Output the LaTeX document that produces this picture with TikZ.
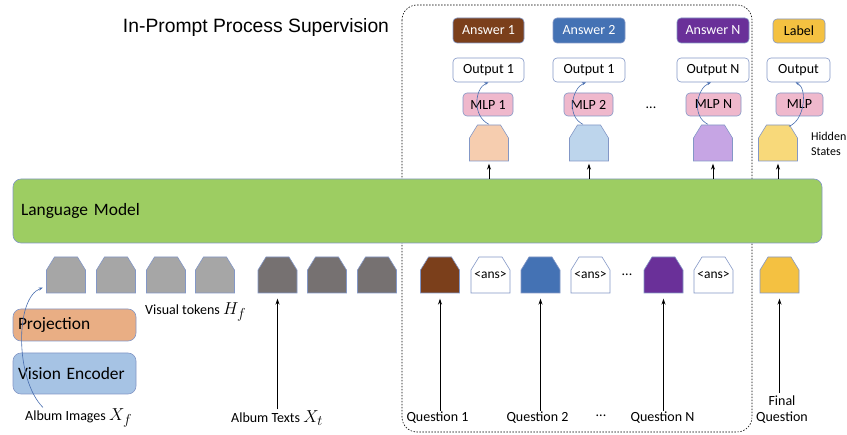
\documentclass[tikz,border=0pt]{standalone}
\usepackage{fontspec}
\setmainfont{Carlito}
\newfontfamily\titlefont{Liberation Sans}
\usetikzlibrary{arrows.meta, positioning}

\definecolor{lmgreen}{HTML}{9DCD62}
\definecolor{edgeblue}{HTML}{8397C6}
\definecolor{curlblue}{HTML}{4A6FB0}
\definecolor{projorange}{HTML}{E9AE84}
\definecolor{encblue}{HTML}{A6C3E4}
\definecolor{imggray}{HTML}{A6A6A6}
\definecolor{txtgray}{HTML}{767171}
\definecolor{qbrown}{HTML}{7B3F1B}
\definecolor{qblue}{HTML}{4472B4}
\definecolor{qpurple}{HTML}{6A3099}
\definecolor{qyellow}{HTML}{F4C141}
\definecolor{hpeach}{HTML}{F6CDAF}
\definecolor{hblue}{HTML}{BDD5EC}
\definecolor{hlav}{HTML}{C6A5E4}
\definecolor{hyellow}{HTML}{F8D97A}
\definecolor{mlppink}{HTML}{EFB8CC}

\tikzset{
  tok/.style={minimum width=40pt, minimum height=37pt, inner sep=0pt,
    path picture={
      \filldraw[fill=#1, draw=edgeblue, line width=0.6pt]
        ([shift={(0.5pt,0.5pt)}]path picture bounding box.south west)
        -- ([shift={(0.5pt,-13.5pt)}]path picture bounding box.north west)
        -- ([shift={(8.5pt,-0.5pt)}]path picture bounding box.north west)
        -- ([shift={(-8.5pt,-0.5pt)}]path picture bounding box.north east)
        -- ([shift={(-0.5pt,-13.5pt)}]path picture bounding box.north east)
        -- ([shift={(-0.5pt,0.5pt)}]path picture bounding box.south east) -- cycle;
    }},
  box/.style={rounded corners=4pt, draw=edgeblue, line width=0.6pt, inner sep=0pt,
    font=\fontsize{14}{16}\selectfont},
  bigbox/.style={rounded corners=8pt, draw=edgeblue, line width=0.6pt, inner ysep=0pt,
    align=left, font=\fontsize{17.4}{20}\selectfont},
  lab/.style={inner sep=1pt, font=\fontsize{14}{16}\selectfont},
  up/.style={-{Stealth[length=6pt,width=4pt]}, line width=0.8pt},
  curl/.style={-{Stealth[length=4pt,width=3pt]}, draw=curlblue, line width=0.6pt}
}

\begin{document}
\begin{tikzpicture}[x=1pt, y=-1pt]
  \useasboundingbox (0,0) rectangle (847,435);
  \draw[dash pattern=on 1.5pt off 1.5pt, rounded corners=15pt, line width=0.6pt] (402,5) rectangle (752,432);
  \node[font=\titlefont\fontsize{19.3}{22}\selectfont] (title) at (256,28) {In-Prompt Process Supervision};

  % language model and vision side
  \node[bigbox, fill=lmgreen, minimum width=809pt, minimum height=64pt, text width=793pt, inner xsep=8pt] (lm) at (417.5,211) {Language Model};
  \node[bigbox, fill=projorange, minimum width=123pt, minimum height=32pt, text width=113pt, inner xsep=5pt] (proj) at (74.5,325) {Projection};
  \node[bigbox, fill=encblue, minimum width=123pt, minimum height=41pt, text width=113pt, inner xsep=5pt] (enc) at (74.5,373.5) {Vision Encoder};

  % input tokens
  \foreach \x [count=\i] in {66,116,166,215}
    \node[tok=imggray] (v\i) at (\x,275) {};
  \foreach \x [count=\i] in {277.5,327,377}
    \node[tok=txtgray] (t\i) at (\x,275) {};
  \node[tok=qbrown] (q1) at (440,275) {};
  \node[tok=white, font=\fontsize{13.5}{15}\selectfont] (a1) at (490.5,275) {<ans>};
  \node[tok=qblue] (q2) at (540.5,275) {};
  \node[tok=white, font=\fontsize{13.5}{15}\selectfont] (a2) at (590.5,275) {<ans>};
  \node[lab] (qdots) at (627,275) {...};
  \node[tok=qpurple] (qN) at (663.5,275) {};
  \node[tok=white, font=\fontsize{13.5}{15}\selectfont] (aN) at (713.5,275) {<ans>};
  \node[tok=qyellow] (qf) at (779.5,275) {};

  % hidden states and heads
  \node[tok=hpeach] (h1) at (489,143) {};
  \node[tok=hblue] (h2) at (589,143) {};
  \node[tok=hlav] (hN) at (713,143) {};
  \node[tok=hyellow] (hf) at (778,143) {};
  \node[lab, anchor=west, align=left, font=\fontsize{12}{15}\selectfont] (hid) at (810,144) {Hidden\\States};

  \node[box, fill=mlppink, minimum width=50pt, minimum height=23pt] (m1) at (488,104.5) {MLP 1};
  \node[box, fill=mlppink, minimum width=49pt, minimum height=23pt] (m2) at (588.5,104.5) {MLP 2};
  \node[lab] (mdots) at (651,108) {...};
  \node[box, fill=mlppink, minimum width=55pt, minimum height=23pt] (mN) at (713.5,104.5) {MLP N};
  \node[box, fill=mlppink, minimum width=47pt, minimum height=23pt] (mf) at (799.5,104.5) {MLP};

  \node[box, fill=white, minimum width=71pt, minimum height=24pt] (o1) at (488.5,70) {Output 1};
  \node[box, fill=white, minimum width=72pt, minimum height=24pt] (o2) at (589,70) {Output 1};
  \node[box, fill=white, minimum width=72pt, minimum height=24pt] (oN) at (713,70) {Output N};
  \node[box, fill=white, minimum width=63pt, minimum height=24pt] (of) at (798.5,70) {Output};

  \node[box, fill=qbrown, text=white, minimum width=71pt, minimum height=25pt] (ans1) at (488.5,30.5) {Answer 1};
  \node[box, fill=qblue, text=white, minimum width=72pt, minimum height=25pt] (ans2) at (589,30.5) {Answer 2};
  \node[box, fill=qpurple, text=white, minimum width=72pt, minimum height=25pt] (ansN) at (713,30.5) {Answer N};
  \node[box, fill=qyellow, minimum width=52pt, minimum height=24pt] (lbl) at (799,31) {Label};

  % bottom labels
  \node[lab, anchor=west] (vis) at (144,312) {Visual tokens \fontsize{19}{20}\selectfont$H_f$};
  \node[lab, anchor=west] (imgs) at (24,418) {Album Images \fontsize{19}{20}\selectfont$X_f$};
  \node[lab, anchor=west] (txts) at (230,418) {Album Texts \fontsize{19}{20}\selectfont$X_t$};
  \node[lab] (q1l) at (437.5,418) {Question 1};
  \node[lab] (q2l) at (537.5,418) {Question 2};
  \node[lab] (qldots) at (601,416) {...};
  \node[lab] (qNl) at (662.5,418) {Question N};
  \node[lab, align=center, font=\fontsize{14}{16}\selectfont] (qfl) at (782,410) {Final\\Question};

  % arrows
  \draw[up, shorten >=5pt] (t1.south |- txts.north) -- (t1.south);
  \draw[up, shorten >=5pt] (q1.south |- q1l.north) -- (q1.south);
  \draw[up, shorten >=5pt] (q2.south |- q2l.north) -- (q2.south);
  \draw[up, shorten >=5pt] (qN.south |- qNl.north) -- (qN.south);
  \draw[up, shorten >=5pt] ([yshift=2pt]qf.south |- qfl.north) -- (qf.south);
  \foreach \n in {h1,h2,hN,hf}
    \draw[up, shorten >=2pt] (lm.north -| \n.south) -- (\n.south);

  \draw[curl] ([xshift=19pt]imgs.north west) .. controls +(-28,-28) and +(-28,10) .. ([xshift=-3pt,yshift=6pt]v1.south west);
  \draw[curl] (h1.north) .. controls +(-17,-8) and +(-14,6) .. (o1.south);
  \draw[curl] ([xshift=-6pt]h2.north) .. controls +(-17,-8) and +(-14,6) .. ([xshift=-3pt]o2.south);
  \draw[curl] ([xshift=-5pt]hN.north) .. controls +(-17,-8) and +(-14,6) .. ([xshift=-2pt]oN.south);
  \draw[curl] ([xshift=11pt,yshift=-2pt]hf.north) .. controls +(16,-6) and +(12,6) .. ([xshift=-3pt]of.south);
\end{tikzpicture}
\end{document}
